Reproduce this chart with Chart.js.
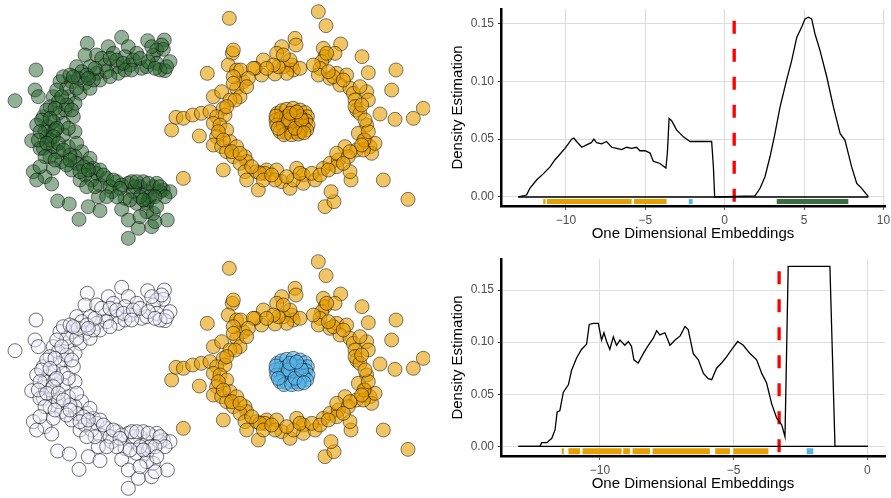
<!DOCTYPE html>
<html>
<head>
<meta charset="utf-8">
<script src="https://cdn.jsdelivr.net/npm/chart.js@4.4.1/dist/chart.umd.min.js"></script>
<style>
  html, body { margin: 0; padding: 0; background: #fff; width: 891px; height: 498px; overflow: hidden; }
  .panel { position: absolute; }
</style>
</head>
<body>
<div class="panel" style="left:0;top:0;width:430px;height:250px"><canvas id="scTop" width="430" height="250"></canvas></div>
<div class="panel" style="left:0;top:250px;width:430px;height:250px"><canvas id="scBot" width="430" height="250"></canvas></div>
<div class="panel" style="left:440px;top:0;width:451px;height:250px"><canvas id="dTop" width="451" height="250"></canvas></div>
<div class="panel" style="left:440px;top:250px;width:451px;height:248px"><canvas id="dBot" width="451" height="248"></canvas></div>
<script>
// ---------- 2-D point clouds (shared by both left panels) ----------
const moonPts = [
[365,112],[262,130],[443,122],[493,120],[325,140],[385,140],[470,150],[490,148],[255,165],[290,165],
[340,160],[410,160],[375,170],[460,165],[510,185],[108,210],[230,200],[270,200],[315,195],[350,200],
[390,195],[425,205],[495,212],[245,215],[290,220],[355,220],[180,245],[215,245],[255,250],[300,240],
[105,270],[115,290],[160,290],[205,290],[240,280],[270,265],[45,302],[175,305],[225,310],[195,330],
[130,350],[175,340],[220,350],[110,375],[145,380],[190,370],[95,422],[140,410],[190,405],[225,395],
[130,445],[160,440],[205,440],[245,455],[230,430],[150,470],[185,485],[225,470],[260,490],[100,515],
[135,530],[215,510],[280,505],[290,520],[320,535],[350,545],[385,550],[420,560],[460,560],[490,570],
[510,575],[110,540],[155,552],[240,540],[300,555],[335,575],[400,575],[440,575],[480,575],[375,595],
[295,590],[173,603],[208,612],[265,620],[300,632],[365,628],[410,610],[440,610],[460,640],[502,660],
[237,658],[385,660],[415,685],[455,680],[465,665],[385,715],[440,635],[445,600],[230,490],[270,475],
[160,505],[200,265],[230,265],[280,240],[320,215],[375,210],[440,200],[470,190],[480,210],[150,320],
[200,315],[160,365],[205,385],[150,420],[175,455],[210,465],[250,500],[300,510],[330,560],[365,555],
[405,560],[430,545],[470,550],[450,590],[420,590],[275,540],[255,525],[135,395],[120,445],[165,390],
[215,330],[190,230],[210,225],[235,235],[260,225],[285,205],[305,175],[330,175],[350,180],[370,190],
[400,180],[420,175],[445,185],[465,205],[500,200],[485,135],[455,140],[395,210],[330,230],[265,235],
[220,230],[170,270],[185,290],[140,330],[165,325],[125,360],[150,355],[170,385],[120,395],[160,410],
[115,420],[140,430],[175,430],[190,450],[135,470],[165,480],[200,495],[210,480],[120,500],[240,515],
[265,510],[310,525],[340,540],[360,565],[395,545],[410,545],[445,550],[480,560],[495,590],[465,590],
[430,600],[390,600],[350,590],[320,590],[285,560],[260,560],[420,650],[470,620]
];
const ringPts = [
[688,55],[955,35],[978,77],[885,115],[1022,132],[1086,170],[1188,210],[1105,218],[1175,270],[1270,325],
[1240,355],[1185,358],[1140,342],[1150,540],[1224,598],[975,620],[1002,605],[993,575],[1053,540],[1050,515],
[550,535],[515,390],[598,408],[622,220],[640,290],[528,352],[550,355],[578,345],[604,340],[630,335],
[697,160],[700,150],[685,195],[710,210],[790,180],[785,225],[765,205],[845,140],[830,160],[875,195],
[880,210],[850,200],[860,220],[888,135],[970,145],[975,170],[965,185],[1005,160],[960,205],[955,225],
[990,235],[1010,220],[1040,225],[1020,255],[1050,265],[1060,280],[1100,275],[1065,300],[1105,300],[1070,330],
[1065,320],[730,245],[710,265],[720,290],[665,275],[690,300],[705,300],[670,325],[650,350],[675,345],
[640,370],[660,375],[680,390],[650,410],[640,435],[665,440],[690,425],[710,440],[680,455],[700,470],
[735,470],[740,485],[720,490],[735,515],[670,510],[740,540],[775,570],[770,515],[800,510],[795,520],
[830,510],[845,545],[870,565],[890,505],[910,525],[910,550],[945,540],[970,505],[990,490],[1015,480],
[1010,500],[880,540],[825,540],[1100,375],[1075,400],[1095,420],[1110,440],[1115,460],[1125,430],[1035,440],
[1070,450],[1010,460],[1045,470],[1090,450],[722,210],[760,205],[825,222],[835,200],[1092,420],[1080,340],
[1000,230],[780,520],[700,230],[745,235],[680,320],[655,395],[670,420],[695,455],[720,460],[755,500],
[790,540],[815,525],[860,530],[900,520],[935,520],[960,525],[985,510],[1030,490],[1050,455],[1085,435],
[1105,395],[1095,360],[1085,315],[1080,260],[1030,240],[985,215],[940,195],[900,205],[870,180],[820,195],
[800,205],[740,260],[700,250],[850,165],[980,160]
];
const clusterPts = [
[832,340],[845,332],[860,328],[880,325],[900,330],[915,338],[922,350],[828,360],[842,355],[860,350],
[880,345],[900,350],[918,362],[924,375],[830,375],[850,375],[870,370],[890,370],[910,378],[920,390],
[840,395],[860,398],[880,395],[900,395],[852,404],[875,404],[895,402],[828,348],[865,360],[885,385],
[905,360],[835,385],[912,398],[870,340],[890,336]
];

// ---------- 1-D density estimates ----------
const topCurveX = [-13.0,-12.48,-12.27,-11.85,-11.43,-11.0,-10.7,-10.38,-10.06,-9.85,-9.64,-9.5,-9.33,-9.0,-8.7,-8.4,-8.24,-8.07,-7.75,-7.44,-7.12,-6.8,-6.49,-6.18,-5.86,-5.55,-5.34,-5.02,-4.7,-4.5,-4.08,-3.70,-3.61,-3.5,-3.34,-3.03,-2.6,-2.18,-1.55,-0.82,-0.71,-0.63,1.91,2.23,2.54,2.86,3.17,3.49,3.9,4.22,4.54,4.85,5.06,5.27,5.48,5.69,6.0,6.43,6.85,7.27,7.58,8.0,8.32,8.63,9.05];
const topCurveY = [0,0.0017,0.0075,0.0147,0.020,0.026,0.032,0.037,0.042,0.046,0.050,0.051,0.048,0.043,0.045,0.047,0.050,0.047,0.046,0.048,0.043,0.042,0.041,0.043,0.042,0.043,0.040,0.040,0.038,0.031,0.029,0.025,0.038,0.068,0.066,0.058,0.052,0.048,0.048,0.048,0.026,0,0.001,0.0075,0.0175,0.035,0.055,0.078,0.101,0.118,0.138,0.147,0.154,0.1555,0.154,0.141,0.127,0.104,0.078,0.055,0.049,0.026,0.0118,0.0075,0.0003];
const botCurveX = [-13.05,-12.24,-12.18,-11.99,-11.8,-11.68,-11.6,-11.5,-11.37,-11.18,-11.06,-10.87,-10.69,-10.5,-10.4,-10.25,-10.06,-9.94,-9.85,-9.75,-9.63,-9.5,-9.38,-9.25,-9.07,-8.94,-8.82,-8.73,-8.57,-8.38,-8.19,-8.0,-7.88,-7.76,-7.57,-7.38,-7.19,-7.0,-6.82,-6.7,-6.51,-6.32,-6.13,-5.95,-5.82,-5.64,-5.45,-5.26,-5.07,-4.85,-4.64,-4.39,-4.14,-3.95,-3.77,-3.58,-3.39,-3.2,-3.08,-2.96,-1.4,-1.21,0.02];
const botCurveY = [0,0,0.0035,0.0035,0.0077,0.0157,0.033,0.034,0.052,0.059,0.073,0.085,0.093,0.098,0.117,0.118,0.118,0.102,0.109,0.1006,0.093,0.105,0.097,0.102,0.097,0.1006,0.096,0.083,0.080,0.089,0.097,0.104,0.111,0.107,0.109,0.097,0.102,0.106,0.115,0.112,0.089,0.083,0.070,0.065,0.064,0.075,0.080,0.086,0.093,0.1006,0.097,0.089,0.083,0.070,0.061,0.041,0.027,0.0205,0.0093,0.1728,0.1728,0,0];

// rug extents (x ranges covered by rug ticks)
const topRugOrange = [[-11.43,-11.28],[-11.2,-5.86],[-5.71,-3.66]];
const topRugBlue = [[-2.26,-2.02]];
const topRugGreen = [[3.28,7.79]];
const botRugOrange = [[-11.43,-11.35],[-11.18,-10.75],[-10.65,-9.19],[-9.13,-8.88],[-8.78,-8.13],[-8.03,-5.89],[-5.69,-5.14],[-5.01,-3.70]];
const botRugBlue = [[-2.27,-2.02]];

// thresholds (red dashed)
const topThreshold = 0.6;
const botThreshold = -3.3;

// axis ticks
const topXTicks = [-10,-5,0,5,10];
const botXTicks = [-10,-5,0];
const topYTicks = [0,0.05,0.10,0.15];
const botYTicks = [0,0.05,0.10,0.15];

const FONT = "'Liberation Sans', Arial, Helvetica, sans-serif";
const ORANGE = '#E69F00', BLUE = '#56B4E9', GREEN = '#3B6E3F';

function toXY(pts){ return pts.map(p => ({x:p[0], y:p[1]})); }

function scatterChart(id, moonStyle, clusterStyle){
  const mk = (pts, st) => Object.assign({ data: toXY(pts), pointRadius: 7, pointBorderWidth: 1, pointHoverRadius: 7, clip: false }, st);
  new Chart(document.getElementById(id), {
    type: 'scatter',
    data: { datasets: [
      mk(clusterPts, clusterStyle),
      mk(ringPts, { pointBackgroundColor: 'rgba(230,159,0,0.6)', pointBorderColor: 'rgba(0,0,0,0.5)' }),
      mk(moonPts, moonStyle)
    ]},
    options: {
      responsive: false, animation: false, events: [],
      layout: { padding: 0, autoPadding: false },
      plugins: { legend: { display: false }, tooltip: { enabled: false } },
      scales: {
        x: { type: 'linear', min: 0, max: 1290, display: false },
        y: { type: 'linear', min: 0, max: 750, reverse: true, display: false }
      }
    }
  });
}

scatterChart('scTop',
  { pointBackgroundColor: 'rgba(40,100,45,0.5)', pointBorderColor: 'rgba(0,0,0,0.5)' },
  { pointBackgroundColor: 'rgba(230,159,0,0.6)', pointBorderColor: 'rgba(0,0,0,0.55)' });
scatterChart('scBot',
  { pointBackgroundColor: 'rgba(240,240,255,0.45)', pointBorderColor: 'rgba(0,0,0,0.55)' },
  { pointBackgroundColor: 'rgba(86,180,233,0.6)', pointBorderColor: 'rgba(0,0,0,0.5)' });

function densityChart(id, o){
  const line = (data, color, width, extra) => Object.assign({ data, showLine: true, borderColor: color, borderWidth: width, pointRadius: 0, fill: false, tension: 0 }, extra || {});
  const curve = o.cx.map((x,i) => ({x, y: o.cy[i]}));
  const ds = [];
  ds.push(line([{x:o.cx[0],y:0},{x:o.cx[o.cx.length-1],y:0}], '#000', 1.3));
  ds.push(line(curve, '#000', 1.3));
  o.rugs.forEach(r => r.segs.forEach(s => ds.push(line([{x:s[0],y:o.rugY},{x:s[1],y:o.rugY}], r.color, o.rugW, {borderCapStyle:'butt'}))));
  ds.push(line([{x:o.thr,y:o.thrTop},{x:o.thr,y:o.ymin}], '#FF0000', 3.3, {borderDash:[13,15], borderCapStyle:'butt'}));
  new Chart(document.getElementById(id), {
    type: 'scatter',
    data: { datasets: ds },
    options: {
      responsive: false, animation: false, events: [],
      layout: { padding: { left: 0, right: o.padRight, top: o.padTop, bottom: 0 }, autoPadding: false },
      plugins: { legend: { display: false }, tooltip: { enabled: false } },
      scales: {
        x: {
          type: 'linear', min: o.xmin, max: o.xmax,
          afterBuildTicks: s => { s.ticks = o.xticks.map(v => ({value:v})); },
          afterFit: s => { s.height = o.xAxisH; s.paddingLeft = 0; s.paddingRight = 0; },
          grid: { color: '#DCDCDC', lineWidth: 1, drawTicks: true, tickLength: 4, tickColor: '#555', tickWidth: 1 },
          border: { display: true, color: '#000', width: 2.5 },
          ticks: { padding: 3, maxRotation: 0, color: '#4D4D4D', font: { family: FONT, size: 12 },
                   callback: v => String(v).replace('-', '\u2212') },
          title: { display: true, text: 'One Dimensional Embeddings', color: '#000',
                   font: { family: FONT, size: 15 }, padding: { top: 0, bottom: o.xTitlePad } }
        },
        y: {
          type: 'linear', min: o.ymin, max: o.ymax,
          afterBuildTicks: s => { s.ticks = o.yticks.map(v => ({value:v})); },
          afterFit: s => { s.width = 61; s.paddingTop = 0; s.paddingBottom = 0; },
          grid: { color: '#DCDCDC', lineWidth: 1, drawTicks: true, tickLength: 3, tickColor: '#333', tickWidth: 1.2 },
          border: { display: true, color: '#000', width: 2.5 },
          ticks: { padding: 4, color: '#4D4D4D', font: { family: FONT, size: 12 }, callback: v => v.toFixed(2) },
          title: { display: true, text: 'Density Estimation', color: '#000',
                   font: { family: FONT, size: 15 }, padding: { top: 9, bottom: 0 } }
        }
      }
    }
  });
}

densityChart('dTop', {
  cx: topCurveX, cy: topCurveY,
  rugs: [ {segs: topRugOrange, color: ORANGE}, {segs: topRugBlue, color: BLUE}, {segs: topRugGreen, color: GREEN} ],
  rugY: -0.004, rugW: 5,
  thr: topThreshold, thrTop: 0.1525,
  xmin: -14.09, xmax: 10.1, ymin: -0.0078, ymax: 0.1626,
  xticks: topXTicks, yticks: topYTicks,
  padRight: 6, padTop: 9, xAxisH: 44, xTitlePad: 7
});
densityChart('dBot', {
  cx: botCurveX, cy: botCurveY,
  rugs: [ {segs: botRugOrange, color: ORANGE}, {segs: botRugBlue, color: BLUE} ],
  rugY: -0.0047, rugW: 6,
  thr: botThreshold, thrTop: 0.168,
  xmin: -13.70, xmax: 0.66, ymin: -0.0093, ymax: 0.1798,
  xticks: botXTicks, yticks: botYTicks,
  padRight: 6, padTop: 9, xAxisH: 42, xTitlePad: 5
});
</script>
</body>
</html>
